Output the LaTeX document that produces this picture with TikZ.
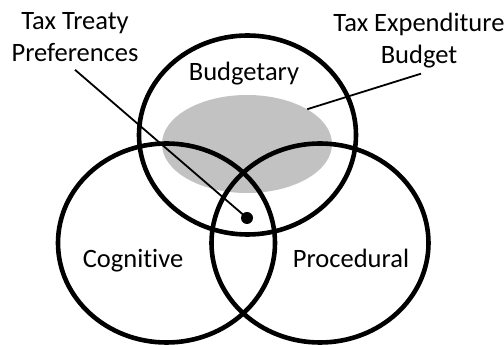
\documentclass[tikz,border=0pt]{standalone}
\usepackage{fontspec}
\setmainfont[Ligatures=NoCommon]{Carlito}
\usepackage{tikz}
\usetikzlibrary{arrows,positioning,shapes.geometric}
\tikzset{
    %Define style for the three sets
    venn/.style={
           ellipse,
           draw=black, line width=4.6pt,
           minimum width=217pt,
           minimum height=199pt,
           inner sep=0pt},
    %Define style for the shaded region
    shade/.style={
           ellipse,
           fill=black!24,
           minimum width=170pt,
           minimum height=98pt,
           inner sep=0pt},
    dot/.style={
           circle,
           fill=black,
           minimum size=12pt,
           inner sep=0pt},
    lbl/.style={
           font=\fontsize{26.5}{32}\selectfont,
           align=center,
           inner sep=0pt},
    % Define leader line style
    pil/.style={
           -,
           line width=1.8pt}
}
\begin{document}
\begin{tikzpicture}[x=1pt,y=1pt]
\useasboundingbox (0,0) rectangle (504,345);
\node[shade](spend) at (247,201){};
\node[venn](budg) at (247.5,210){};
\node[venn](cogn) at (166.5,102){};
\node[venn](proc) at (320,102){};
\node[dot](treatydot) at (247,127){};
\node[lbl, anchor=base](budglbl) at (244,264){Budgetary};
\node[lbl, anchor=base](cognlbl) at (133,77.3){Cognitive};
\node[lbl, anchor=base](proclbl) at (351,77.3){Procedural};
\node[lbl](treaty) at (75,308){Tax Treaty\\Preferences};
\node[lbl](expend) at (419,304){Tax Expenditure\\Budget};
\draw[pil] ([yshift=-8pt]treaty.south) -- (treatydot.center);
\draw[pil] ([xshift=2pt,yshift=-5pt]expend.south) -- (spend.30.5);
\end{tikzpicture}
\end{document}
